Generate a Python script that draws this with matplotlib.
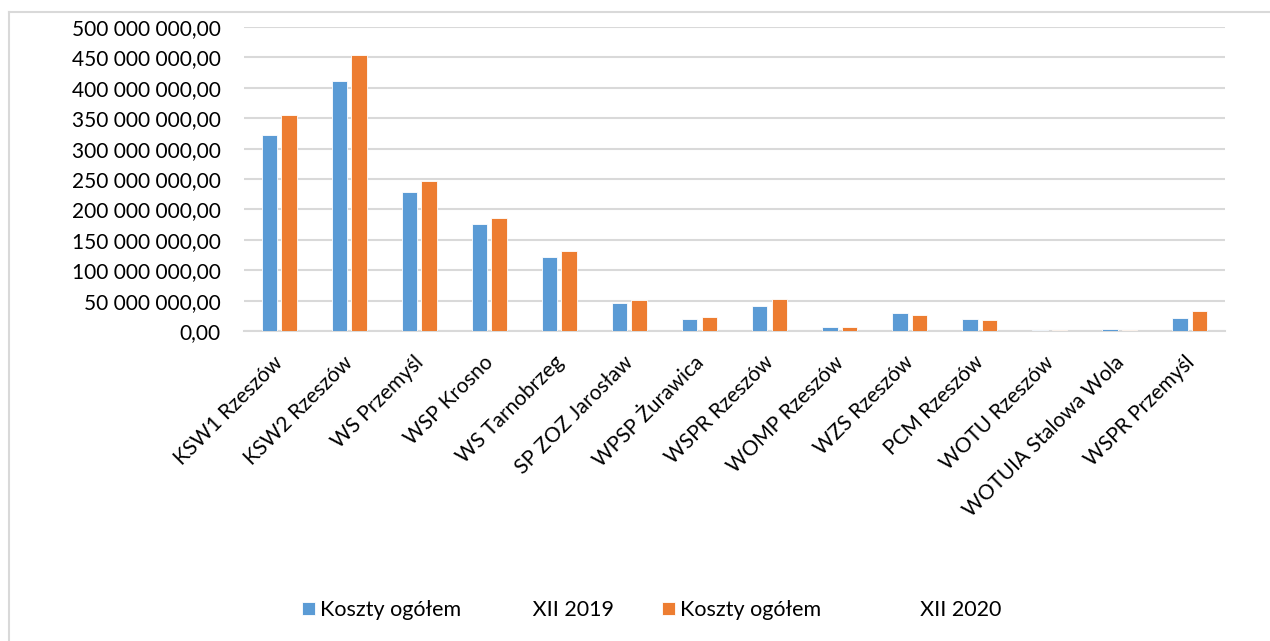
import numpy as np
import matplotlib.pyplot as plt
import matplotlib.transforms as mtransforms
from matplotlib.ticker import FuncFormatter, MultipleLocator
from matplotlib.lines import Line2D

plt.rcParams['font.family'] = ['Lato', 'DejaVu Sans']

units = ['KSW1 Rzeszów', 'KSW2 Rzeszów', 'WS Przemyśl', 'WSP Krosno',
         'WS Tarnobrzeg', 'SP ZOZ Jarosław', 'WPSP Żurawica', 'WSPR Rzeszów',
         'WOMP Rzeszów', 'WZS Rzeszów', 'PCM Rzeszów', 'WOTU Rzeszów',
         'WOTUIA Stalowa Wola', 'WSPR Przemyśl']
# koszty ogółem, mln zł
koszty_2019 = [323, 412, 229, 176, 121, 46, 20.5, 40.5, 7.2, 29.5, 20.2, 1.6, 2.8, 21.8]
koszty_2020 = [355, 454, 246, 186, 131, 50.5, 23, 53, 6.8, 26.8, 18.5, 1.2, 1.8, 33.5]

blue = '#5B9BD5'
orange = '#ED7D31'
grid = '#D9D9D9'

fig = plt.figure(figsize=(12.7, 6.41), dpi=100)
ax = fig.add_axes([244 / 1270, 1 - 331 / 641, (1225 - 244) / 1270, (331 - 27) / 641])

x = np.arange(len(units))
w = 0.22
ax.bar(x - 0.14, np.array(koszty_2019) * 1e6, w, color=blue, edgecolor='white',
       linewidth=0.6, label='Koszty ogółem             XII 2019', zorder=3)
ax.bar(x + 0.14, np.array(koszty_2020) * 1e6, w, color=orange, edgecolor='white',
       linewidth=0.6, label='Koszty ogółem                  XII 2020', zorder=3)

ax.set_xlim(-0.5, len(units) - 0.5)
ax.set_ylim(0, 500e6)
ax.yaxis.set_major_locator(MultipleLocator(50e6))
ax.yaxis.set_major_formatter(FuncFormatter(
    lambda v, p: f'{v:,.2f}'.replace(',', ' ').replace('.', ',')))
ax.grid(axis='y', color=grid, linewidth=1.5, zorder=0)
for s in ['top', 'right', 'left']:
    ax.spines[s].set_visible(False)
ax.spines['bottom'].set_color(grid)
ax.spines['bottom'].set_linewidth(1.5)
ax.tick_params(axis='y', length=0, pad=17, labelsize=15)
ax.tick_params(axis='x', length=0, pad=14, labelsize=15)
ax.set_xticks(x)
ax.set_xticklabels(units, rotation=45, ha='right', rotation_mode='anchor')
shift = mtransforms.ScaledTranslation(-0.06, -0.02, fig.dpi_scale_trans)
for lab in ax.get_xticklabels():
    lab.set_transform(lab.get_transform() + shift)

ax.legend(loc='center left', bbox_to_anchor=(302 / 1270, 1 - 610 / 641),
          bbox_transform=fig.transFigure, ncol=2, frameon=False, fontsize=15.5,
          handlelength=0.6, handleheight=0.6, handletextpad=0.25,
          columnspacing=2.2, borderaxespad=0, borderpad=0)

# ramka obszaru wykresu
fig.add_artist(Line2D([9 / 1270, 1], [1 - 12 / 641] * 2, color=grid, lw=1.5,
                      transform=fig.transFigure))
fig.add_artist(Line2D([9 / 1270] * 2, [0, 1 - 12 / 641], color=grid, lw=1.5,
                      transform=fig.transFigure))

fig.savefig('out.png', dpi=100)
